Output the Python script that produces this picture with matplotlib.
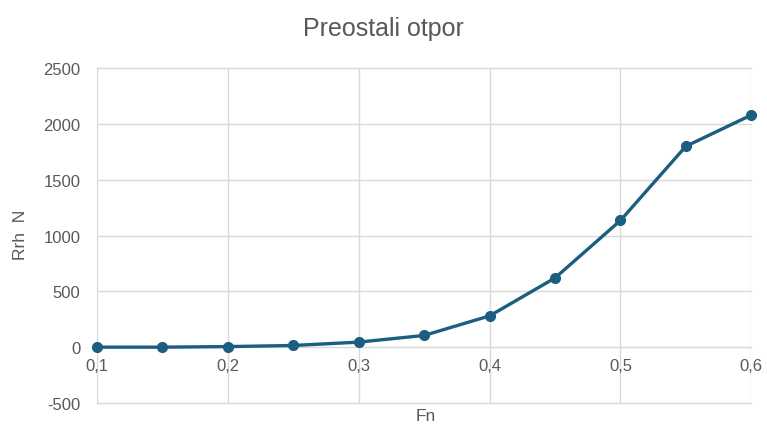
import matplotlib.pyplot as plt
from matplotlib.ticker import FuncFormatter

plt.rcParams['font.family'] = ['Liberation Sans Narrow', 'Liberation Sans', 'DejaVu Sans']
plt.rcParams['axes.unicode_minus'] = False

# Froude number vs residual resistance
fn = [0.10, 0.15, 0.20, 0.25, 0.30, 0.35, 0.40, 0.45, 0.50, 0.55, 0.60]
rrh = [0, 0, 5, 15, 45, 105, 280, 620, 1135, 1800, 2080]

line_color = '#1b5e80'
text_color = '#595959'
grid_color = '#d9d9d9'

fig = plt.figure(figsize=(7.67, 4.27), dpi=100)
ax = fig.add_axes([0.1265, 0.054, 0.853, 0.784])

ax.plot(fn, rrh, color=line_color, lw=2.4, marker='o', ms=7, zorder=3, clip_on=False)

ax.set_xlim(0.1, 0.6)
ax.set_ylim(-500, 2500)
ax.set_xticks([0.1, 0.2, 0.3, 0.4, 0.5, 0.6])
ax.set_yticks(range(-500, 2501, 500))
ax.xaxis.set_major_formatter(FuncFormatter(lambda v, p: f"{v:.1f}".replace('.', ',')))

ax.grid(True, color=grid_color, lw=1)
for gl in ax.get_xgridlines() + ax.get_ygridlines():
    gl.set_clip_on(False)
for s in ['top', 'right', 'left']:
    ax.spines[s].set_visible(False)
ax.spines['bottom'].set_position(('data', 0))
ax.spines['bottom'].set_color(grid_color)
ax.spines['bottom'].set_zorder(1)

ax.tick_params(axis='both', length=0, labelsize=12, labelcolor=text_color)
ax.tick_params(axis='x', pad=8)
ax.tick_params(axis='y', pad=12)

fig.suptitle("Preostali otpor", y=0.96, fontsize=18, color=text_color)
fig.text(0.555, 0.008, "Fn", ha='center', va='bottom', fontsize=12.5, color=text_color)
fig.text(0.027, 0.45, "Rrh  N", rotation=90, ha='center', va='center', fontsize=12.5, color=text_color)

fig.savefig("out.png", dpi=100, facecolor='white')
